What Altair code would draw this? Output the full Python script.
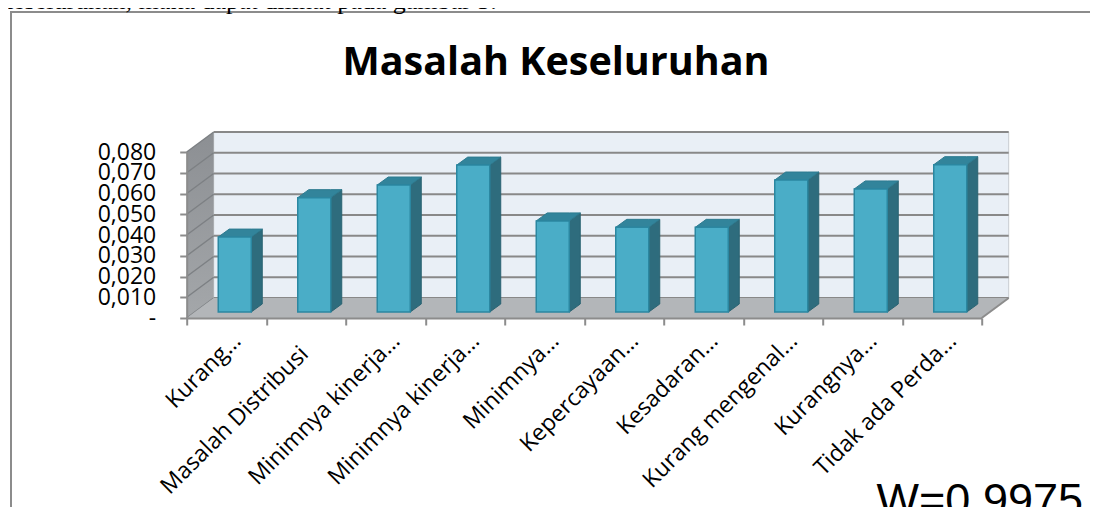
import json
import altair as alt
import pandas as pd

# ---------------- data ----------------
categories = ["Kurang…", "Masalah Distribusi", "Minimnya kinerja…", "Minimnya kinerja…",
              "Minimnya…", "Kepercayaan…", "Kesadaran…", "Kurang mengenal…",
              "Kurangnya…", "Tidak ada Perda…"]
values = [0.0361, 0.0551, 0.0612, 0.0708, 0.0439, 0.0408, 0.0408, 0.0636, 0.0593, 0.0710]
y_ticks = [0.0, 0.01, 0.02, 0.03, 0.04, 0.05, 0.06, 0.07, 0.08]
title_text = "Masalah Keseluruhan"
note_text = "W=0.9975"
caption_text = "keseluruhan, maka dapat dilihat pada gambar 5."

# ---------------- geometry of the pseudo-3D frame ----------------
n = len(categories)
W, H = 795, 166                     # front plot area (px)
YMAX = 0.08
PXX = W / n                         # px per category unit
PXY = H / YMAX                      # px per value unit
WDX, WDY = 27 / PXX, 20 / PXY       # depth of walls
BDX, BDY = 8.3 / PXX, 6 / PXY       # bars sit half-way in depth
DDX, DDY = 11 / PXX, 8 / PXY        # depth of each bar
HALF = 16.5 / PXX                   # half bar width

rows, tops, sides = [], [], []
for i, (c, v) in enumerate(zip(categories, values)):
    xl = i + 0.5 + BDX - HALF
    xr = i + 0.5 + BDX + HALF
    y0 = BDY
    y1 = BDY + v
    rows.append(dict(bar=i, cat=c, v=v, xl=xl, xr=xr, y0=y0, y1=y1))
    tops += [dict(bar=i, x=xl, y=y1, y2=y1),
             dict(bar=i, x=xl + DDX, y=y1, y2=y1 + DDY),
             dict(bar=i, x=xr, y=y1, y2=y1 + DDY),
             dict(bar=i, x=xr + DDX, y=y1 + DDY, y2=y1 + DDY)]
    sides += [dict(bar=i, x=xr, y=y0, y2=y1),
              dict(bar=i, x=xr + DDX, y=y0 + DDY, y2=y1 + DDY)]
bars_df = pd.DataFrame(rows)
tops_df = pd.DataFrame(tops)
sides_df = pd.DataFrame(sides)

back_df = pd.DataFrame([dict(x=WDX, x2=n + WDX, y=WDY, y2=YMAX + WDY)])
back_grid = pd.DataFrame([dict(x=WDX, x2=n + WDX, y=t + WDY) for t in y_ticks])
side_grid = pd.DataFrame([dict(x=0, x2=WDX, y=t, y2=t + WDY) for t in y_ticks])
side_wall = pd.DataFrame([dict(x=0, y=0, y2=YMAX), dict(x=WDX, y=WDY, y2=YMAX + WDY)])
floor_df = pd.DataFrame([dict(x=0, y=0, y2=0), dict(x=WDX, y=0, y2=WDY),
                         dict(x=n, y=0, y2=WDY), dict(x=n + WDX, y=WDY, y2=WDY)])
floor_edge = pd.DataFrame([dict(x=n, x2=n + WDX, y=0, y2=WDY)])

# ---------------- scales / axes ----------------
xs = alt.Scale(domain=[0, n], nice=False, zero=False)
ys = alt.Scale(domain=[0, YMAX], nice=False, zero=False)
GRAY = "#8c8c8c"
FONT = "Open Sans"

# labels that are not truncated sit a little lower along their own direction
full_label = "indexof(['Masalah Distribusi'], %s[datum.value]) >= 0" % json.dumps(categories, ensure_ascii=False)

xaxis = alt.Axis(
    values=list(range(n + 1)), title=None, grid=False,
    labelExpr="datum.value < %d ? %s[datum.value] : ''" % (n, json.dumps(categories, ensure_ascii=False)),
    labelAngle=-45, labelAlign="right", labelBaseline="middle",
    labelOffset={"condition": {"test": "datum.value == 1", "value": 38}, "value": 50},
    labelPadding={"condition": {"test": "datum.value == 1", "value": 25}, "value": 12},
    labelLimit=1000,
    labelFont=FONT, labelFontSize=23, labelColor="black",
    labelOverlap=False, labelFlush=False, labelBound=False,
    domainColor=GRAY, domainWidth=2, tickColor=GRAY, tickWidth=2, tickSize=7, zindex=1,
)
yaxis = alt.Axis(
    values=y_ticks, title=None, grid=False,
    labelExpr="datum.value == 0 ? '-\u00a0\u00a0' : replace(format(datum.value, '.3f'), '.', ',')",
    labelFont=FONT, labelFontSize=23, labelColor="black", labelPadding=24, labelLimit=1000,
    labelOverlap=False, labelFlush=False, labelBound=False,
    domainColor=GRAY, domainWidth=2, tickColor=GRAY, tickWidth=2, tickSize=7, zindex=1,
)


def X(f):
    return alt.X(f, type="quantitative", scale=xs, axis=xaxis)


def Y(f):
    return alt.Y(f, type="quantitative", scale=ys, axis=yaxis)


one = alt.Data(values=[{}])

frame = alt.Chart(one).mark_rect(fillOpacity=0, stroke=GRAY, strokeWidth=2).encode(
    x=alt.value(-175.7), x2=alt.value(1000), y=alt.value(-140), y2=alt.value(420))

back = alt.Chart(back_df).mark_rect(fill="#e9eff6", stroke="#c8ccd0", strokeWidth=1).encode(
    x=X("x"), x2="x2", y=Y("y"), y2="y2")
bgrid = alt.Chart(back_grid).mark_rule(color="#888888", strokeWidth=2.2).encode(
    x=X("x"), x2="x2", y=Y("y"))
swall = alt.Chart(side_wall).mark_area(
    color=alt.Gradient(gradient="linear", x1=0, y1=0, x2=0, y2=1,
                       stops=[alt.GradientStop(color="#8c8f93", offset=0),
                              alt.GradientStop(color="#a4a7aa", offset=1)])
).encode(x=X("x"), y=Y("y"), y2="y2")
sgrid = alt.Chart(side_grid).mark_rule(color="#7d8084", strokeWidth=1.5).encode(
    x=X("x"), x2="x2", y=Y("y"), y2="y2")
floor = alt.Chart(floor_df).mark_area(color="#b3b6b9").encode(x=X("x"), y=Y("y"), y2="y2")
fedge = alt.Chart(floor_edge).mark_rule(color=GRAY, strokeWidth=2).encode(
    x=X("x"), x2="x2", y=Y("y"), y2="y2")

side_faces = alt.Chart(sides_df).mark_area(color="#2e6c7d", stroke="#2a6372", strokeWidth=1).encode(
    x=X("x"), y=Y("y"), y2="y2", detail="bar:N")
top_faces = alt.Chart(tops_df).mark_area(color="#32849b", stroke="#2d7a8f", strokeWidth=1).encode(
    x=X("x"), y=Y("y"), y2="y2", detail="bar:N")
fronts = alt.Chart(bars_df).mark_rect(fill="#4aadc7", stroke="#2b87a1", strokeWidth=1.5).encode(
    x=X("xl"), x2="xr", y=Y("y0"), y2="y1", tooltip=["cat:N", "v:Q"])

title = alt.Chart(one).mark_text(text=title_text, font=FONT, fontSize=39.5, fontWeight="bold",
                                 align="center", baseline="alphabetic", color="black").encode(
    x=alt.value(369.3), y=alt.value(-77))
note = alt.Chart(one).mark_text(text=note_text, font="Liberation Sans", fontSize=45,
                                align="right", baseline="alphabetic", color="black").encode(
    x=alt.value(896.3), y=alt.value(363))
caption = alt.Chart(one).mark_text(text=caption_text, font="Liberation Serif", fontSize=26,
                                   align="left", baseline="alphabetic", color="black").encode(
    x=alt.value(-186.7), y=alt.value(-143))

chart = alt.layer(
    frame, back, bgrid, swall, sgrid, floor, fedge, side_faces, top_faces, fronts, title, note, caption
).properties(
    width=W, height=H,
    autosize=alt.AutoSizeParams(type="none"),
    padding={"left": 178.7, "top": 144, "right": 1082 - 178.7 - W, "bottom": 499 - 144 - H},
    background="white",
).configure_view(stroke=None)

chart.save("out.html", embed_options={"renderer": "svg", "actions": False})
